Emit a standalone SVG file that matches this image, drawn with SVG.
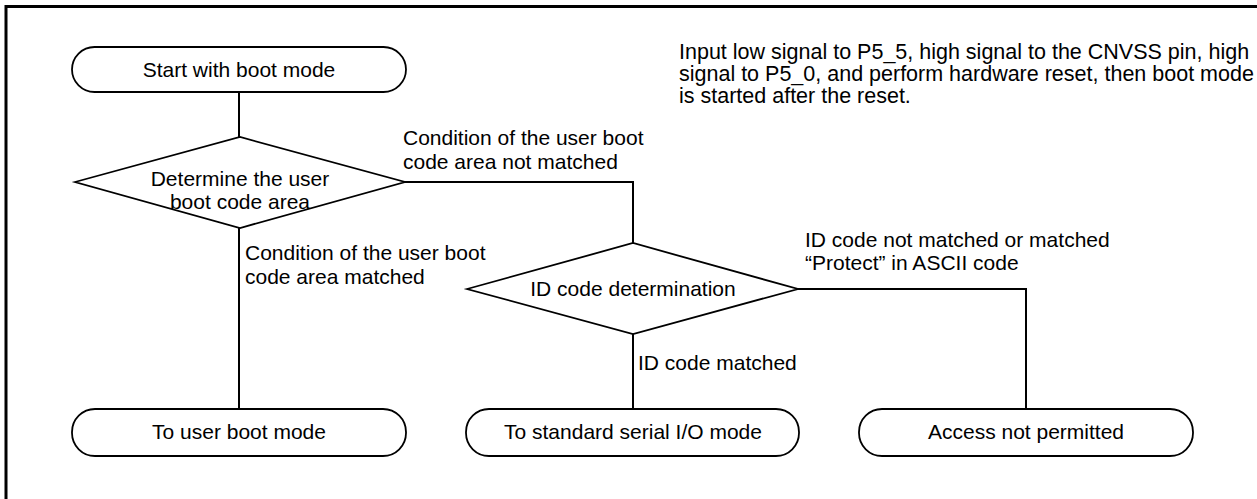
<svg xmlns="http://www.w3.org/2000/svg" width="1257" height="499" viewBox="0 0 1257 499">
<style>
  .node { fill: #ffffff; stroke: #000000; stroke-width: 1.8; }
  .conn { fill: none; stroke: #000000; stroke-width: 2; }
  .frame { fill: none; stroke: #000000; stroke-width: 3; }
  text { font-family: "Liberation Sans", Arial, sans-serif; font-size: 21px; fill: #000000; }
  .c { text-anchor: middle; }
  .note { font-size: 21.5px; }
</style>
<rect width="1257" height="499" fill="#ffffff"/>
<g id="frame">
  <polyline class="frame" points="6,499 6,6.5 1257,6.5"/>
</g>
<g id="connectors">
  <line class="conn" x1="239" y1="92" x2="239" y2="137"/>
  <line class="conn" x1="239" y1="228" x2="239" y2="409"/>
  <polyline class="conn" points="405,182 633,182 633,243"/>
  <line class="conn" x1="633" y1="334" x2="633" y2="409"/>
  <polyline class="conn" points="798,289 1026,289 1026,409"/>
</g>
<g id="note">
  <text class="note" x="679" y="59">Input low signal to P5_5, high signal to the CNVSS pin, high</text>
  <text class="note" x="679" y="81">signal to P5_0, and perform hardware reset, then boot mode</text>
  <text class="note" x="679" y="103">is started after the reset.</text>
</g>
<g id="labels">
  <text x="403" y="145">Condition of the user boot</text>
  <text x="403" y="169">code area not matched</text>
  <text x="245" y="260">Condition of the user boot</text>
  <text x="245" y="284">code area matched</text>
  <text x="805" y="247">ID code not matched or matched</text>
  <text x="805" y="270">“Protect” in ASCII code</text>
  <text x="638" y="370">ID code matched</text>
</g>
<g id="start">
  <rect class="node" x="72" y="47" width="334" height="45" rx="22.5" ry="22.5"/>
  <text class="c" x="239" y="77">Start with boot mode</text>
</g>
<g id="decide_user_boot">
  <polygon class="node" points="75,182 240,137 405,182 240,228"/>
  <text class="c" x="240" y="186">Determine the user</text>
  <text class="c" x="240" y="209">boot code area</text>
</g>
<g id="decide_id">
  <polygon class="node" points="467,289 633,243 798,289 633,334"/>
  <text class="c" x="633" y="296">ID code determination</text>
</g>
<g id="user_boot">
  <rect class="node" x="72" y="409" width="334" height="47" rx="23" ry="23"/>
  <text class="c" x="239" y="439">To user boot mode</text>
</g>
<g id="serial_io">
  <rect class="node" x="466" y="409" width="333" height="47" rx="23" ry="23"/>
  <text class="c" x="633" y="439">To standard serial I/O mode</text>
</g>
<g id="not_permitted">
  <rect class="node" x="859" y="409" width="334" height="47" rx="23" ry="23"/>
  <text class="c" x="1026" y="439">Access not permitted</text>
</g>
</svg>
